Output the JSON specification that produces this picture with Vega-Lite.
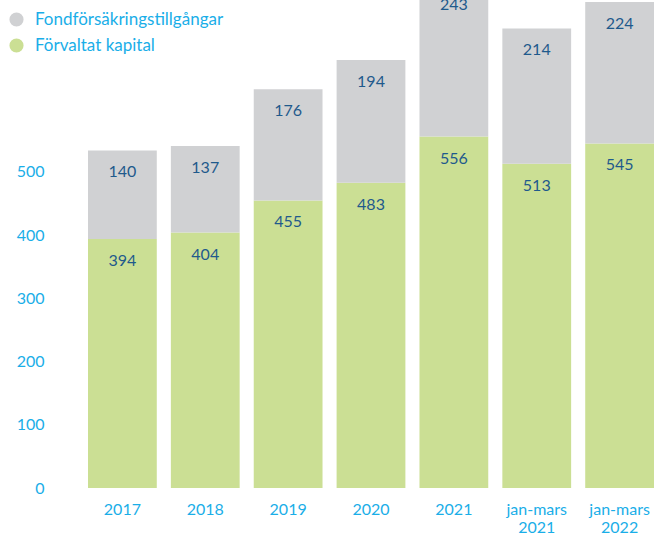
{
  "$schema": "https://vega.github.io/schema/vega-lite/v6.json",
  "width": 566,
  "height": 488,
  "autosize": "none",
  "padding": {"left": 88, "top": 0, "right": 0, "bottom": 46},
  "config": {"view": {"stroke": null}, "font": "Lato"},
  "data": {
    "values": [
      {"period": "2017", "series": "Förvaltat kapital", "value": 394},
      {"period": "2017", "series": "Fondförsäkringstillgångar", "value": 140},
      {"period": "2018", "series": "Förvaltat kapital", "value": 404},
      {"period": "2018", "series": "Fondförsäkringstillgångar", "value": 137},
      {"period": "2019", "series": "Förvaltat kapital", "value": 455},
      {"period": "2019", "series": "Fondförsäkringstillgångar", "value": 176},
      {"period": "2020", "series": "Förvaltat kapital", "value": 483},
      {"period": "2020", "series": "Fondförsäkringstillgångar", "value": 194},
      {"period": "2021", "series": "Förvaltat kapital", "value": 556},
      {"period": "2021", "series": "Fondförsäkringstillgångar", "value": 243},
      {"period": "jan-mars 2021", "series": "Förvaltat kapital", "value": 513},
      {"period": "jan-mars 2021", "series": "Fondförsäkringstillgångar", "value": 214},
      {"period": "jan-mars 2022", "series": "Förvaltat kapital", "value": 545},
      {"period": "jan-mars 2022", "series": "Fondförsäkringstillgångar", "value": 224}
    ]
  },
  "transform": [
    {"stack": "value", "groupby": ["period"], "sort": [{"field": "series", "order": "descending"}], "as": ["v0", "v1"]}
  ],
  "encoding": {
    "x": {
      "field": "period", "type": "nominal", "sort": null,
      "scale": {"paddingInner": 0.17, "paddingOuter": 0},
      "axis": {
        "title": null, "labelAngle": 0, "domain": false, "ticks": false,
        "labelPadding": 13, "labelFontSize": 16, "labelColor": "#1AAEE8",
        "labelLineHeight": 18, "labelExpr": "split(datum.label, ' ')"
      }
    }
  },
  "layer": [
    {
      "mark": {"type": "bar", "clip": true},
      "encoding": {
        "y": {
          "field": "v0", "type": "quantitative",
          "scale": {"domain": [0, 772], "nice": false, "zero": true},
          "axis": {
            "title": null, "values": [0, 100, 200, 300, 400, 500], "domain": false,
            "ticks": false, "grid": false, "labelPadding": 44, "labelFontSize": 16,
            "labelColor": "#1AAEE8"
          }
        },
        "y2": {"field": "v1"},
        "color": {
          "field": "series", "type": "nominal",
          "scale": {"domain": ["Fondförsäkringstillgångar", "Förvaltat kapital"], "range": ["#D0D1D3", "#CBDF94"]},
          "legend": {
            "title": null, "orient": "none", "legendX": -80, "legendY": 11,
            "symbolType": "circle", "symbolSize": 200, "labelFontSize": 17,
            "labelColor": "#1AAEE8", "rowPadding": 8, "labelOffset": 10,
            "labelLimit": 0
          }
        }
      }
    },
    {
      "mark": {"type": "text", "dy": 22, "fontSize": 16, "color": "#1F5A8C"},
      "encoding": {
        "y": {"field": "v1", "type": "quantitative"},
        "text": {"field": "value", "type": "quantitative"}
      }
    }
  ]
}
